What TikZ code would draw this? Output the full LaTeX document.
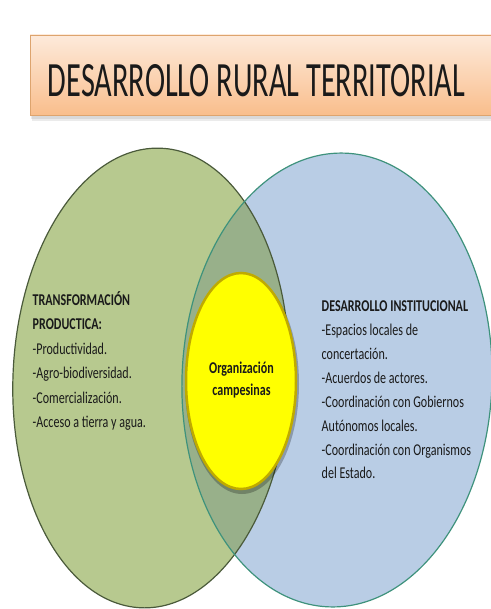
\documentclass[tikz,border=0pt]{standalone}
\usepackage{fontspec}
\setmainfont{Carlito}
\usepackage{graphicx}
\definecolor{greenfill}{HTML}{B7C98F}
\definecolor{greenedge}{HTML}{4A5A3A}
\definecolor{bluefill}{HTML}{B9CDE5}
\definecolor{blueedge}{HTML}{3E927C}
\definecolor{overlapfill}{HTML}{98B08A}
\definecolor{yellowfill}{HTML}{FFFF00}
\definecolor{yellowedge}{HTML}{BFAA00}
\definecolor{titletop}{HTML}{FDEADB}
\definecolor{titlebot}{HTML}{F9BE8C}
\definecolor{titleedge}{HTML}{DDA46E}
\definecolor{ink}{HTML}{1A1A1A}
\newcommand{\cx}[1]{\scalebox{0.73}[1]{#1}}
\begin{document}
\begin{tikzpicture}[x=1pt,y=-1pt,
  txt/.style={font=\fontsize{16.5}{18}\selectfont, text=ink, inner sep=0pt, anchor=base west},
  btxt/.style={txt, font=\fontsize{16.5}{18}\selectfont\bfseries},
  ctxt/.style={font=\fontsize{16.5}{18}\selectfont\bfseries, text=ink, inner sep=0pt, anchor=base},
  titlebox/.style={draw=titleedge, line width=0.8pt, top color=titletop, bottom color=titlebot,
    minimum width=465pt, minimum height=80pt, inner sep=0pt}
]
\useasboundingbox (0,0) rectangle (490,609);

% title
\fill[black, opacity=0.08] (31,38) rectangle (497,119);
\fill[black, opacity=0.08] (32,40) rectangle (497,121);
\node[titlebox] (title) at (262.5,75) {};
\node[inner sep=0pt, text=ink] (titletext) at (256.5,81)
  {\resizebox{417pt}{32pt}{DESARROLLO RURAL TERRITORIAL}};

% ellipses: fills
\fill[greenfill, rotate around={-2.5:(151,378)}] (151,378) ellipse [x radius=138pt, y radius=230pt];
\fill[bluefill, rotate around={-2:(337,380)}] (337,380) ellipse [x radius=155pt, y radius=227pt];
\begin{scope}
  \clip[rotate around={-2.5:(151,378)}] (151,378) ellipse [x radius=138pt, y radius=230pt];
  \fill[overlapfill, rotate around={-2:(337,380)}] (337,380) ellipse [x radius=155pt, y radius=227pt];
\end{scope}
% outlines
\draw[greenedge, line width=1.2pt, rotate around={-2.5:(151,378)}] (151,378) ellipse [x radius=138pt, y radius=230pt];
\draw[blueedge, line width=1.2pt, rotate around={-2:(337,380)}] (337,380) ellipse [x radius=155pt, y radius=227pt];

% inner yellow ellipse
\fill[black, opacity=0.25] (242,384) ellipse [x radius=57pt, y radius=110pt];
\draw[yellowedge, fill=yellowfill, line width=2.5pt] (241,381) ellipse [x radius=55pt, y radius=108pt];

% left text
\node[btxt] (l1) at (32.5,305) {\cx{TRANSFORMACIÓN}};
\node[btxt] (l2) at (32.5,329) {\cx{PRODUCTICA:}};
\node[txt] (l3) at (32.5,354) {\cx{-Productividad.}};
\node[txt] (l4) at (32.5,378) {\cx{-Agro-biodiversidad.}};
\node[txt] (l5) at (32.5,403) {\cx{-Comercialización.}};
\node[txt] (l6) at (32.5,427) {\cx{-Acceso a tierra y agua.}};

% right text
\node[btxt] (r1) at (321.5,311.5) {\cx{DESARROLLO INSTITUCIONAL}};
\node[txt] (r2) at (321.5,335.5) {\cx{-Espacios locales de}};
\node[txt] (r3) at (321.5,359.5) {\cx{concertación.}};
\node[txt] (r4) at (321.5,383.5) {\cx{-Acuerdos de actores.}};
\node[txt] (r5) at (321.5,407.5) {\cx{-Coordinación con Gobiernos}};
\node[txt] (r6) at (321.5,431.5) {\cx{Autónomos locales.}};
\node[txt] (r7) at (321.5,455) {\cx{-Coordinación con Organismos}};
\node[txt] (r8) at (321.5,478.5) {\cx{del Estado.}};

% center text
\node[ctxt] (c1) at (241.5,373) {\cx{Organización}};
\node[ctxt] (c2) at (241.5,395) {\cx{campesinas}};
\end{tikzpicture}
\end{document}
